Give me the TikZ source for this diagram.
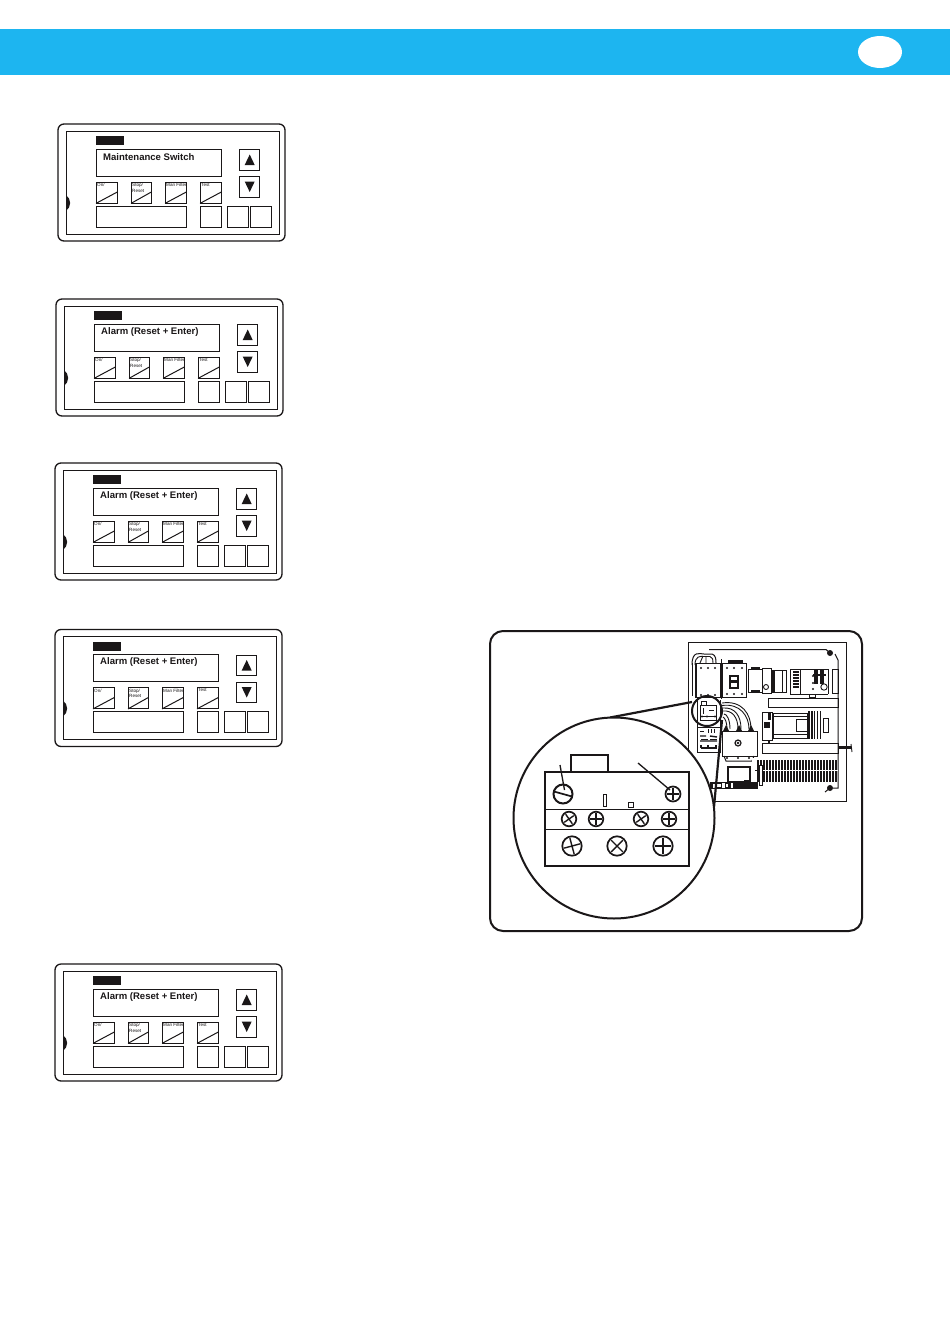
\documentclass[tikz,border=0pt]{standalone}
\usepackage{fontspec}
\setmainfont{Liberation Sans}
\definecolor{band}{HTML}{1DB5F0}
\definecolor{ink}{HTML}{1A1718}
\tikzset{
  ln/.style={draw=ink,line width=1pt},
  thin ln/.style={draw=ink,line width=0.9pt},
  heavy/.style={draw=ink,line width=2pt},
  disp/.style={font=\bfseries\fontsize{9.55}{10}\selectfont,text=ink,anchor=west,inner sep=0pt},
  tiny/.style={font=\fontsize{4.6}{5.6}\selectfont,text=ink,anchor=north west,inner sep=0pt,align=left},
  screw/.style={draw=ink,line width=1.7pt,fill=white},
}
\newcommand{\softkey}[4]{% x, width, name, label
  \draw[ln] (#1,182) rectangle ++(#2,21.4);
  \draw[ln] (#1,203.4) -- ++(#2,-11.5);
  \node[tiny] (#3) at (#1+1,183) {#4};
}
\newcommand{\panelbox}[4]{% dx, dy, id, text
 \begin{scope}[shift={(#1,#2)}]
  \draw[ln,line width=1.3pt,rounded corners=6pt] (58,124) rectangle (285,241);
  \draw[ln] (66,131) rectangle (279,234);
  \fill[ink] (96,136) rectangle (124,145);
  \draw[ln] (96,149) rectangle (221.5,176);
  \node[disp] (#3t) at (103,157) {#4};
  \draw[ln] (239.7,149.5) rectangle (259.7,170);
  \draw[ln] (239.7,176.5) rectangle (259.7,197);
  \fill[ink] (249.7,154.5) -- (254.7,165) -- (244.7,165) -- cycle;
  \fill[ink] (249.7,192) -- (254.7,181.5) -- (244.7,181.5) -- cycle;
  \softkey{96}{21.5}{#3a}{On/}
  \softkey{131}{20.5}{#3b}{Stop/\\Reset}
  \softkey{165}{21.5}{#3c}{Man Filter}
  \softkey{200}{21.5}{#3d}{Test}
  \draw[ln] (96,206) rectangle (186.5,227);
  \draw[ln] (200,206) rectangle (221.5,227);
  \draw[ln] (227.5,206) rectangle (248.5,227);
  \draw[ln] (250,206) rectangle (271.5,227);
  \fill[ink] (66,195) .. controls (71.5,199) and (71.5,207) .. (66,211) -- cycle;
 \end{scope}
}
\newcommand{\bscrew}[4]{% x,y,r,angle : cross
  \draw[screw] (#1,#2) circle (#3);
  \begin{scope}[shift={(#1,#2)},rotate=#4]
   \draw[ink,line width=1.4pt] (-#3+1.5,0) -- (#3-1.5,0) (0,-#3+1.5) -- (0,#3-1.5);
  \end{scope}
}
\newcommand{\dotsrow}[2]{\foreach \q in {#1} {\fill[ink] (\q,#2) circle (1.1);}}
\begin{document}
\begin{tikzpicture}[x=1pt,y=-1pt]
\useasboundingbox (0,0) rectangle (950,1344);
\fill[white] (0,0) rectangle (950,1344);
% header
\fill[band] (0,29) rectangle (950,74.5);
\fill[white] (880,52) ellipse (22 and 16);
% panels
\panelbox{0}{0}{pa}{Maintenance Switch}
\panelbox{-2}{175}{pb}{Alarm (Reset + Enter)}
\panelbox{-3}{339}{pc}{Alarm (Reset + Enter)}
\panelbox{-3}{505.5}{pd}{Alarm (Reset + Enter)}
\panelbox{-3}{840}{pe}{Alarm (Reset + Enter)}
% frame
\draw[heavy,rounded corners=13pt] (490,631) rectangle (862,931);
% cabinet
\draw[ln] (688,642) rectangle (846.5,801);
\draw[ln] (709,649.5) -- (826,649.5) (835,654) -- (838,660) -- (838,783) -- (838,788) -- (833,788) (825,792) -- (830,788) (826,649.5) -- (830,653);
\fill[ink] (830,653) circle (3); \fill[ink] (830,788) circle (3);
\draw[ln] (692,663) -- (692,696) (695,663) -- (695,698);
% wires top-left
\draw[ln] (692,665) .. controls (692,650) and (700,654) .. (704,654) -- (712,654) .. controls (716,655) and (716,660) .. (716,663);
\draw[thin ln] (695,665) .. controls (695,656) and (700,656) .. (704,656.5) -- (710,656.5) .. controls (713,657) and (713,660) .. (713,663);
\draw[thin ln] (700,663) -- (703,656) (706,663) -- (706,656);
% contactors
\draw[ln] (696,663) rectangle (720,697);
\draw[ln] (722,663) rectangle (746,697);
\draw[ln] (721,659) -- (721,699);
\fill[ink] (728,660) rectangle (743,663);
\dotsrow{701,708,715}{668} \dotsrow{701,708,715}{695}
\dotsrow{727,734,742}{668} \dotsrow{727,734,742}{694}
\draw[ink,line width=1.6pt] (730,676) rectangle (738,688);
\fill[ink] (731,680) rectangle (737,683);
% row top right
\draw[ln] (748,669) rectangle (762,692);
\fill[ink] (751,667) rectangle (760,670); \fill[ink] (751,690) rectangle (760,693);
\draw[ln] (762,668) rectangle (771,693);
\draw[thin ln] (766,687) circle (2.5);
\draw[ln] (771,670) rectangle (782,692);
\fill[ink] (771,670) rectangle (775,692);
\draw[ln] (782,670) rectangle (786,692);
\draw[ln] (790,669) rectangle (800,694);
\foreach \yy in {672,675,...,688} {\draw[ink,line width=1.3pt] (793,\yy) -- (799,\yy);}
\draw[ln] (800,669) -- (828,669) (800,694) -- (828,694);
\draw[ln] (828,669) -- (828,694);
\fill[ink] (814,670) rectangle (818,684); \fill[ink] (820,670) rectangle (824,684);
\fill[ink] (813,674) rectangle (826,676);
\draw[thin ln,fill=white] (824,687) circle (3.2);
\dotsrow{813}{676} \dotsrow{813}{683} \dotsrow{813}{689}
\draw[ln] (809,694) rectangle (815,697);
\draw[ln] (832,669) rectangle (838,693);
% bar
\draw[ln] (768,698) rectangle (838,707);
% motor
\draw[ln] (762,712) rectangle (772,740);
\draw[ln] (773,713) rectangle (807,738);
\draw[ln] (773,716.5) -- (807,716.5) (773,734.5) -- (807,734.5);
\draw[ln] (796,719) rectangle (807,731);
\foreach \xx in {809,811.8,...,822} {\draw[ink,line width=1.4pt] (\xx,711) -- (\xx,739);}
\draw[ln] (823,718) rectangle (828,732);
\fill[ink] (764,722) rectangle (770,728);
\fill[ink] (768,713) rectangle (771,720);
\draw[ink,line width=1.4pt] (769,740) -- (769,743);
% bar 2 & cable
\draw[ln] (762,743) rectangle (838,753);
\draw[ink,line width=2.2pt] (838,747.5) -- (851,747.5);
\draw[thin ln] (851,744) -- (852,752);
% lower-left label block
\draw[ln] (697,698) -- (697,752) -- (720,752) -- (720,700);
\draw[ln] (697,727) -- (720,727);
\draw[ink,line width=0.9pt] (700,731) -- (704,731) (708,729) -- (708,733) (711,729) -- (711,733) (714,729) -- (714,733) (701,739) -- (708,739) (710,739) -- (717,739);
\draw[ink,line width=1.4pt] (700,736) -- (706,736) (710,736) -- (717,737) (700,741) -- (717,741);
\draw[ink,line width=1.2pt] (701,748) -- (716,748) (701,745) -- (701,748) (708,745) -- (708,748) (716,745) -- (716,749);
% main contactor
\draw[thin ln] (722,703) .. controls (742,700) and (751,714) .. (751,729);
\draw[thin ln] (722,705.5) .. controls (740,703) and (749,716) .. (749,729);
\draw[thin ln] (723,708) .. controls (735,707) and (741,716) .. (741,729);
\draw[thin ln] (723,711) .. controls (732,710) and (738,717) .. (738,729);
\draw[thin ln] (724,714) .. controls (727,714) and (730,720) .. (730,729);
\draw[thin ln] (723,717) .. controls (725,718) and (727,722) .. (727,729);
\fill[ink] (726,725) -- (729,731) -- (723,731) -- cycle;
\fill[ink] (739,725) -- (742,731) -- (736,731) -- cycle;
\fill[ink] (751,725) -- (754,731) -- (748,731) -- cycle;
\draw[ln] (722,731) rectangle (757,756);
\draw[ln] (724,756) -- (726,761) -- (752,761) -- (754,756);
\dotsrow{727,738,749}{758}
\draw[ink,line width=1.2pt,fill=white] (738,743) circle (3);
\fill[ink] (738,743) circle (1.4);
\draw[ln,line width=1.3pt] (728,767) rectangle (750,782);
\fill[ink] (744,780) rectangle (750,782.5);
% terminals
\foreach \xx in {757.5,760.5,...,838} {\draw[ink,line width=2pt] (\xx,760) -- (\xx,782);}
\fill[white] (757,769.7) rectangle (838,771.2);
\fill[white] (752,758) rectangle (756.5,788);
\draw[thin ln,fill=white] (759,765) rectangle (762,785);
\draw[thin ln] (755,770) -- (759,770);
% rail
\draw[ink,line width=1.2pt] (711,783) rectangle (757,788);
\fill[ink] (728,784) rectangle (756,787);
\draw[thin ln,fill=white] (712,783) rectangle (716,788);
\draw[thin ln,fill=white] (721,782) rectangle (725,788);
\draw[thin ln,fill=white] (730,782) rectangle (733,788);
% small relay inside the small circle
\draw[thin ln] (701,701) rectangle (706,705);
\draw[thin ln] (700,705) rectangle (716,716);
\draw[ink,line width=1pt] (703,708) -- (703,714) (709,710) -- (714,710);
\dotsrow{702,707,715}{716.5}
\draw[thin ln] (700,716) -- (700,720) -- (716,720) -- (716,716);
% callout
\draw[ink,line width=2.2pt] (610,717.5) -- (692,702);
\draw[ink,line width=2.2pt] (714,807) -- (722,720);
\draw[ink,line width=2pt] (707,711) circle (15);
\draw[ink,line width=2pt,fill=white] (614,818) circle (100.5);
% enlarged relay
\draw[ink,line width=2pt] (571,772) -- (571,755) -- (608,755) -- (608,772);
\draw[ink,line width=2pt] (545,772) rectangle (689,866);
\draw[ln] (545,809) -- (689,809) (545,829) -- (689,829);
% left dial
\draw[screw,line width=2pt] (563,794) circle (9.5);
\draw[ink,line width=1.7pt] (554,791.5) -- (572,796.5);
\draw[ink,line width=1.3pt] (560,765) -- (564.5,790);
\bscrew{673}{794}{7.5}{0}
\draw[ink,line width=1.3pt] (638,763) -- (670,790);
\draw[ink,line width=0.9pt] (603.5,794) rectangle (606.5,806);
\draw[ink,line width=0.9pt] (628,802) rectangle (633.5,807);
\bscrew{569}{819}{7.3}{35}
\bscrew{596}{819}{7.3}{0}
\bscrew{641}{819}{7.3}{35}
\bscrew{669}{819}{7.3}{0}
\bscrew{572}{846}{9.7}{15}
\bscrew{617}{846}{9.7}{45}
\bscrew{663}{846}{9.7}{0}
\end{tikzpicture}
\end{document}
